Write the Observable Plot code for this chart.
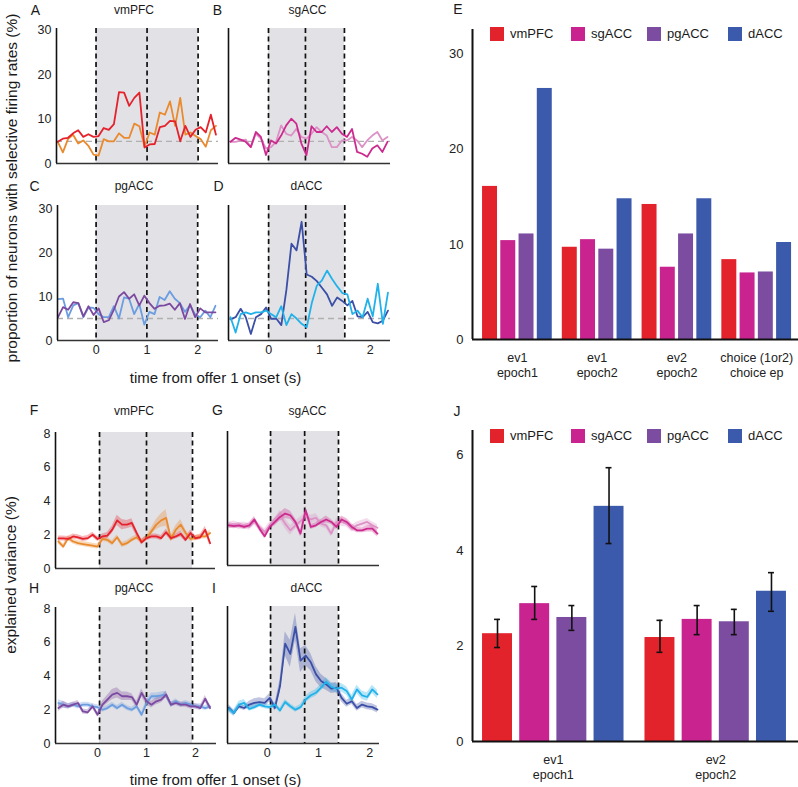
<!DOCTYPE html>
<html><head><meta charset="utf-8">
<script src="https://cdn.jsdelivr.net/npm/d3@7"></script>
<script src="https://cdn.jsdelivr.net/npm/@observablehq/plot@0.6"></script>
<style>
body{margin:0;background:#fff;}
#fig{position:relative;width:798px;height:787px;overflow:hidden;font-family:"Liberation Sans",Arial,sans-serif;color:#1a1a1a;background:#fff;}
.lbl{position:absolute;white-space:nowrap;transform:translate(-50%,-50%);line-height:1;}
.panel{position:absolute;}
.sw{position:absolute;}
</style></head><body><div id="fig"></div>
<script>
// ---------- DATA ----------
const regions = ["vmPFC","sgACC","pgACC","dACC"];
const barColors = ["#e3232b","#c9238f","#7b4ca0","#3c5aab"];

// time grids (s)
const tTop = [-0.75,-0.65,-0.55,-0.45,-0.35,-0.25,-0.15,-0.05,0.05,0.15,0.25,0.35,0.45,0.55,0.65,0.75,0.85,0.95,1.05,1.15,1.25,1.35,1.45,1.55,1.65,1.75,1.85,1.95,2.05,2.15,2.25,2.35];
const tLeftBottom = [-0.8,-0.7,-0.6,-0.5,-0.4,-0.3,-0.2,-0.1,0,0.1,0.2,0.3,0.4,0.5,0.6,0.7,0.8,0.9,1.0,1.1,1.2,1.3,1.4,1.5,1.6,1.7,1.8,1.9,2.0,2.1,2.2,2.3];
const tRightBottom = [-0.75,-0.65,-0.55,-0.45,-0.35,-0.25,-0.15,-0.05,0.05,0.15,0.25,0.35,0.45,0.55,0.65,0.75,0.85,0.95,1.05,1.15,1.25,1.35,1.45,1.55,1.65,1.75,1.85,1.95,2.05,2.15];

// A: vmPFC proportion (%)
const aEv1 = [4.9,5.6,5.8,6.8,7.5,6.0,6.6,6.0,6.2,8.0,7.6,8.9,16.1,16.0,13.0,14.8,16.0,3.6,4.3,4.4,8.2,8.5,9.6,9.5,5.0,8.5,6.0,7.6,8.2,7.0,11.0,6.5];
const aEv2 = [4.9,2.5,5.5,6.5,4.5,5.2,4.0,2.0,1.8,5.5,5.0,5.0,6.8,5.8,5.8,9.0,8.4,3.8,7.0,6.5,11.5,11.0,14.0,8.5,14.8,6.5,7.0,6.2,5.5,3.8,7.5,8.5];
// B: sgACC
const bEv1 = [4.9,5.8,5.4,4.9,3.7,7.1,6.0,1.9,5.2,4.5,6.3,8.6,10.1,9.0,4.5,1.9,8.4,7.1,7.1,8.4,7.1,8.2,6.7,6.0,7.8,2.6,2.2,1.5,3.4,4.1,2.6,4.9];
const bEv2 = [4.9,4.9,5.2,5.4,3.7,6.7,5.6,3.4,3.7,4.9,8.6,6.7,6.3,7.8,6.0,5.6,6.7,8.2,7.1,6.3,3.7,3.7,5.2,5.2,6.0,5.2,3.7,5.2,6.3,7.1,5.2,6.0];
// C: pgACC
const cEv1 = [5.3,7.6,7.0,8.7,8.5,5.5,7.8,5.8,7.3,4.2,4.6,7.0,10.0,11.0,9.5,10.5,8.0,10.2,8.5,7.2,7.9,8.0,8.4,7.0,8.5,4.9,8.3,5.3,7.3,6.4,6.4,6.4];
const cEv2 = [9.4,9.5,5.3,8.0,8.5,5.3,7.5,7.4,6.0,5.3,5.3,7.8,5.0,9.8,9.5,6.0,8.3,3.6,6.5,6.0,9.9,9.2,11.2,9.5,8.5,6.5,8.0,5.9,5.3,6.8,5.3,7.9];
// D: dACC
const dEv1 = [4.8,5.3,7.2,5.3,1.5,5.3,6.0,7.5,4.9,5.0,3.5,11.5,22.0,20.5,27.0,15.0,14.5,13.5,12.0,10.5,7.9,9.8,9.0,8.0,9.0,5.5,5.3,6.5,4.2,3.9,4.5,6.8];
const dEv2 = [5.3,1.8,6.0,6.4,6.0,6.4,6.4,6.8,6.0,5.3,7.8,3.5,6.0,5.0,3.8,3.0,8.5,12.5,13.7,15.9,14.0,12.3,10.8,10.5,6.0,6.8,5.3,9.5,5.5,12.9,3.8,10.9];

// F: vmPFC explained variance (%) and s.e.m.
const fEv1 = [1.78,1.78,1.75,1.9,1.85,1.75,1.8,2.0,1.75,1.9,1.95,2.3,2.85,2.6,2.6,2.7,2.1,1.55,1.8,1.9,1.9,1.8,2.15,1.8,1.9,2.05,1.7,2.1,1.8,1.85,2.3,1.5];
const fEv1Sem = [0.15,0.15,0.15,0.15,0.15,0.15,0.15,0.15,0.15,0.15,0.18,0.22,0.3,0.3,0.25,0.25,0.2,0.15,0.15,0.15,0.15,0.15,0.18,0.15,0.15,0.18,0.15,0.18,0.15,0.15,0.2,0.2];
const fEv2 = [1.6,1.3,1.8,1.6,1.5,1.45,1.4,1.35,1.3,1.75,1.7,1.5,1.85,1.4,1.5,1.7,1.85,1.6,1.8,2.2,2.6,2.85,3.0,1.75,2.3,2.6,2.1,1.75,1.8,1.9,1.9,2.1];
const fEv2Sem = [0.15,0.15,0.15,0.15,0.15,0.15,0.15,0.15,0.15,0.15,0.15,0.15,0.15,0.15,0.15,0.15,0.15,0.15,0.15,0.2,0.3,0.4,0.5,0.2,0.25,0.3,0.2,0.15,0.15,0.15,0.15,0.18];
// G: sgACC
const gEv1 = [2.4,2.35,2.4,2.3,2.4,2.75,2.2,1.75,2.3,2.6,2.9,3.1,3.0,2.6,1.9,3.3,2.3,2.4,2.6,2.75,2.6,2.3,2.75,2.6,2.3,2.1,2.1,2.2,2.2,1.9];
const gEv1Sem = [0.15,0.15,0.15,0.15,0.15,0.18,0.15,0.15,0.15,0.2,0.25,0.3,0.25,0.2,0.2,0.25,0.15,0.15,0.15,0.2,0.15,0.15,0.2,0.2,0.2,0.15,0.15,0.2,0.2,0.2];
const gEv2 = [2.4,2.45,2.35,2.4,2.3,2.6,2.3,2.0,2.4,2.6,3.0,2.5,2.1,2.4,2.65,2.95,2.75,2.85,2.5,2.4,1.9,2.6,2.6,2.5,2.2,2.4,2.5,2.6,2.4,2.25];
const gEv2Sem = [0.2,0.2,0.2,0.2,0.2,0.2,0.2,0.2,0.2,0.25,0.3,0.3,0.3,0.25,0.25,0.25,0.25,0.25,0.2,0.2,0.2,0.2,0.25,0.2,0.2,0.2,0.2,0.2,0.2,0.2];
// H: pgACC
const hEv1 = [2.1,2.3,2.2,2.3,2.4,1.9,1.85,2.2,1.7,2.3,2.6,2.9,3.0,2.8,2.8,2.75,2.3,3.0,2.5,2.3,2.5,2.6,2.9,2.3,2.4,2.3,2.3,2.2,2.2,2.1,2.65,2.1];
const hEv1Sem = [0.2,0.2,0.15,0.15,0.15,0.15,0.15,0.15,0.15,0.2,0.25,0.3,0.3,0.25,0.25,0.2,0.2,0.25,0.2,0.2,0.2,0.2,0.2,0.15,0.15,0.15,0.15,0.15,0.15,0.15,0.2,0.15];
const hEv2 = [2.4,2.3,2.2,2.3,2.2,2.3,2.3,2.2,2.15,2.0,2.1,2.3,2.1,2.3,2.1,2.0,2.2,1.7,2.4,2.8,2.8,2.85,2.9,2.3,2.5,2.3,2.4,2.3,2.2,2.2,2.1,2.2];
const hEv2Sem = [0.2,0.2,0.15,0.15,0.15,0.15,0.15,0.15,0.15,0.15,0.15,0.15,0.15,0.15,0.15,0.15,0.15,0.15,0.2,0.2,0.2,0.2,0.2,0.15,0.15,0.15,0.15,0.15,0.15,0.15,0.15,0.15];
// I: dACC
const iEv1 = [2.1,1.8,2.2,2.1,2.3,2.4,2.45,2.4,2.7,2.1,3.4,5.9,5.3,6.9,4.9,5.2,4.8,4.1,3.7,3.5,3.25,3.3,2.7,2.35,2.5,2.1,2.3,2.2,2.15,2.0];
const iEv1Sem = [0.2,0.15,0.15,0.15,0.2,0.25,0.25,0.25,0.25,0.2,0.4,0.7,0.8,0.8,0.7,0.6,0.5,0.45,0.4,0.35,0.3,0.3,0.25,0.2,0.2,0.2,0.2,0.2,0.2,0.2];
const iEv2 = [2.05,1.8,2.3,2.4,2.05,2.15,2.3,2.2,2.15,2.3,1.95,2.45,2.2,2.0,2.15,2.6,2.85,3.0,3.3,3.65,3.35,3.25,3.3,3.1,2.6,3.2,2.85,2.75,3.2,2.9];
const iEv2Sem = [0.2,0.2,0.2,0.2,0.15,0.15,0.15,0.15,0.15,0.15,0.15,0.15,0.15,0.15,0.15,0.2,0.2,0.2,0.2,0.25,0.25,0.25,0.25,0.25,0.25,0.25,0.25,0.25,0.25,0.25];

// E: proportion of selective neurons per epoch
const eGroups = ["ev1\nepoch1","ev1\nepoch2","ev2\nepoch2","choice (1or2)\nchoice ep"];
const eVmPFC = [16.1,9.7,14.2,8.4];
const eSgACC = [10.4,10.5,7.6,7.0];
const ePgACC = [11.1,9.5,11.1,7.1];
const eDACC  = [26.4,14.8,14.8,10.2];
const eTicks = [0,10,20,30];

// J: explained variance (%) mean and error limits
const jGroups = ["ev1\nepoch1","ev2\nepoch2"];
const jVmPFC = [2.26,2.18], jVmPFCLo = [1.97,1.87], jVmPFCHi = [2.56,2.54];
const jSgACC = [2.89,2.56], jSgACCLo = [2.56,2.24], jSgACCHi = [3.25,2.85];
const jPgACC = [2.6,2.51],  jPgACCLo = [2.33,2.24], jPgACCHi = [2.85,2.77];
const jDACC  = [4.93,3.15], jDACCLo  = [4.15,2.73], jDACCHi  = [5.74,3.54];
const jTicks = [0,2,4,6];

const col = {
  red:"#e5212b", orange:"#ea8a2e", magenta:"#cc2a8e", pink:"#dc92c6",
  purple:"#7b4aa0", lightblue:"#6b9de0", darkblue:"#3b4fa6", cyan:"#22b2ea"
};

// ---------- LAYOUT HELPERS ----------
const FONT = "'Liberation Sans', Arial, sans-serif";
const fmt = d3.format("~g");
const fig = document.getElementById("fig");
function label(text, x, y, size, rotate) {
  const d = document.createElement("div");
  d.className = "lbl"; d.textContent = text;
  d.style.left = x + "px"; d.style.top = y + "px"; d.style.fontSize = size + "px";
  if (rotate) d.style.transform = "translate(-50%,-50%) rotate(-90deg)";
  fig.appendChild(d);
}
function place(svg, left, top) {
  const w = document.createElement("div");
  w.className = "panel"; w.style.left = left + "px"; w.style.top = top + "px";
  w.appendChild(svg); fig.appendChild(w);
}
function legend(y) {
  const xs = [490, 571, 647, 728];
  regions.forEach((r, i) => {
    const s = document.createElement("div");
    s.className = "sw";
    s.style.cssText = `left:${xs[i]}px;top:${y-7}px;width:14px;height:14px;background:${barColors[i]};`;
    fig.appendChild(s);
    const t = document.createElement("div");
    t.className = "sw";
    t.style.cssText = `left:${xs[i]+20}px;top:${y-8}px;font-size:13px;line-height:16px;`;
    t.textContent = r;
    fig.appendChild(t);
  });
}

function tsPanel(p) {
  const mL = 36, mR = 8, mT = 4, mB = 26;
  const W = p.x1 - p.x0 + mL + mR, H = p.y1 - p.y0 + mT + mB;
  const marks = [
    Plot.rect([p.shade], {x1: d => d[0], x2: d => d[1], y1: () => p.yDomain[0], y2: () => p.yDomain[1], fill: "#e2e2e6"})
  ];
  if (p.chance != null) marks.push(Plot.ruleY([p.chance], {stroke: "#b0b0b0", strokeWidth: 1.3, strokeDasharray: "6,4"}));
  const datasets = p.series.map(s => s.v.map((v, i) => ({t: s.t[i], v, s: s.sem ? s.sem[i] : 0})));
  p.series.forEach((s, k) => {
    if (s.sem) marks.push(Plot.areaY(datasets[k], {x: "t", y1: d => d.v - d.s, y2: d => d.v + d.s, fill: s.color, fillOpacity: 0.32}));
  });
  marks.push(Plot.ruleX(p.dashes, {stroke: "#111", strokeWidth: 1.7, strokeDasharray: "5,3.5"}));
  p.series.forEach((s, k) => {
    marks.push(Plot.lineY(datasets[k], {x: "t", y: "v", stroke: s.color, strokeWidth: 1.8}));
  });
  marks.push(Plot.ruleY([p.yDomain[0]], {stroke: "#333", strokeWidth: 1.5}));
  marks.push(Plot.ruleX([p.xDomain[0]], {stroke: "#111", strokeWidth: 1.6}));
  const svg = Plot.plot({
    width: W, height: H, marginLeft: mL, marginRight: mR, marginTop: mT, marginBottom: mB,
    style: {fontFamily: FONT, fontSize: "12.5px", color: "#222", background: "transparent", overflow: "visible"},
    x: {domain: p.xDomain, ticks: p.xTicks || [], tickFormat: fmt, tickSize: 0, tickPadding: 5, label: null, axis: p.xTicks ? "bottom" : null},
    y: {domain: p.yDomain, ticks: p.yTicks || [], tickFormat: fmt, tickSize: 0, tickPadding: 5, label: null, axis: p.yTicks ? "left" : null},
    marks
  });
  place(svg, p.x0 - mL, p.y0 - mT);
}

function barPanel(p) {
  const mL = 40, mR = 0, mT = 4, mB = 50;
  const W = p.x1 - p.x0 + mL + mR, H = p.y1 - p.y0 + mT + mB;
  const rows = [];
  regions.forEach((r, ri) => p.groups.forEach((g, gi) => {
    const x1 = gi * p.step + ri, x2 = x1 + p.bw;
    rows.push({region: r, x1, x2, c: (x1 + x2) / 2, v: p.vals[ri][gi],
      lo: p.lo ? p.lo[ri][gi] : null, hi: p.hi ? p.hi[ri][gi] : null});
  }));
  const groupRows = p.groups.map((g, gi) => ({label: g, x: gi * p.step + (3 + p.bw) / 2}));
  const marks = [
    Plot.rect(rows, {x1: "x1", x2: "x2", y1: () => 0, y2: "v", fill: "region"})
  ];
  if (p.lo) {
    marks.push(Plot.ruleX(rows, {x: "c", y1: "lo", y2: "hi", stroke: "#111", strokeWidth: 1.6}));
    marks.push(Plot.ruleY(rows, {y: "hi", x1: d => d.c - p.cap, x2: d => d.c + p.cap, stroke: "#111", strokeWidth: 1.6}));
    marks.push(Plot.ruleY(rows, {y: "lo", x1: d => d.c - p.cap, x2: d => d.c + p.cap, stroke: "#111", strokeWidth: 1.6}));
  }
  marks.push(Plot.ruleY([0], {stroke: "#111", strokeWidth: 2}));
  marks.push(Plot.ruleX([p.xDomain[0]], {stroke: "#111", strokeWidth: 2}));
  marks.push(Plot.text(groupRows, {x: "x", y: () => 0, text: "label", dy: 12, lineAnchor: "top", lineHeight: 1.2, fontSize: 12.5, fill: "#222"}));
  const svg = Plot.plot({
    width: W, height: H, marginLeft: mL, marginRight: mR, marginTop: mT, marginBottom: mB,
    style: {fontFamily: FONT, fontSize: "13px", color: "#222", background: "transparent", overflow: "visible"},
    x: {domain: p.xDomain, axis: null},
    y: {domain: p.yDomain, ticks: p.yTicks, tickFormat: fmt, tickSize: 0, tickPadding: 9, label: null},
    color: {domain: regions, range: barColors},
    marks
  });
  place(svg, p.x0 - mL, p.y0 - mT);
}

// ---------- PANELS ----------
const propTicks = [0, 10, 20, 30];
const evTicks = [0, 2, 4, 6, 8];
const timeTicks = [0, 1, 2];

tsPanel({x0: 56, x1: 218, y0: 28, y1: 163, xDomain: [-0.775, 2.4], yDomain: [0, 30.45], yTicks: propTicks,
  shade: [0, 2], dashes: [0, 1, 2], chance: 5,
  series: [{t: tTop, v: aEv2, color: col.orange}, {t: tTop, v: aEv1, color: col.red}]});
tsPanel({x0: 228, x1: 390, y0: 28, y1: 163, xDomain: [-0.79, 2.41], yDomain: [0, 30.45],
  shade: [0, 1.5], dashes: [0, 0.73, 1.5], chance: 5,
  series: [{t: tTop, v: bEv2, color: col.pink}, {t: tTop, v: bEv1, color: col.magenta}]});
tsPanel({x0: 57, x1: 218, y0: 205, y1: 340, xDomain: [-0.76, 2.41], yDomain: [0, 30.7], yTicks: propTicks, xTicks: timeTicks,
  shade: [0, 2], dashes: [0, 1, 2], chance: 5,
  series: [{t: tTop, v: cEv2, color: col.lightblue}, {t: tTop, v: cEv1, color: col.purple}]});
tsPanel({x0: 228, x1: 390, y0: 205, y1: 340, xDomain: [-0.79, 2.4], yDomain: [0, 30.7], xTicks: timeTicks,
  shade: [0, 1.5], dashes: [0, 0.73, 1.5], chance: 5,
  series: [{t: tTop, v: dEv1, color: col.darkblue}, {t: tTop, v: dEv2, color: col.cyan}]});

tsPanel({x0: 55, x1: 215, y0: 432, y1: 568, xDomain: [-0.86, 2.41], yDomain: [0, 8.06], yTicks: evTicks,
  shade: [0.04, 1.94], dashes: [0.04, 1.0, 1.94],
  series: [{t: tLeftBottom, v: fEv2, sem: fEv2Sem, color: col.orange}, {t: tLeftBottom, v: fEv1, sem: fEv1Sem, color: col.red}]});
tsPanel({x0: 227, x1: 379, y0: 431, y1: 565, xDomain: [-0.775, 2.19], yDomain: [0, 8.0],
  shade: [0.065, 1.39], dashes: [0.065, 0.73, 1.39],
  series: [{t: tRightBottom, v: gEv2, sem: gEv2Sem, color: col.pink}, {t: tRightBottom, v: gEv1, sem: gEv1Sem, color: col.magenta}]});
tsPanel({x0: 55, x1: 216, y0: 607, y1: 743, xDomain: [-0.86, 2.43], yDomain: [0, 8.06], yTicks: evTicks, xTicks: timeTicks,
  shade: [0.04, 1.94], dashes: [0.04, 1.0, 1.94],
  series: [{t: tLeftBottom, v: hEv2, sem: hEv2Sem, color: col.lightblue}, {t: tLeftBottom, v: hEv1, sem: hEv1Sem, color: col.purple}]});
tsPanel({x0: 227, x1: 379, y0: 606, y1: 743, xDomain: [-0.775, 2.19], yDomain: [0, 8.1], xTicks: timeTicks,
  shade: [0.065, 1.39], dashes: [0.065, 0.73, 1.39],
  series: [{t: tRightBottom, v: iEv1, sem: iEv1Sem, color: col.darkblue}, {t: tRightBottom, v: iEv2, sem: iEv2Sem, color: col.cyan}]});

barPanel({x0: 472, x1: 798, y0: 29, y1: 339, groups: eGroups, step: 4.37, bw: 0.82,
  xDomain: [-0.55, 17.31], yDomain: [0, 32.6], yTicks: eTicks,
  vals: [eVmPFC, eSgACC, ePgACC, eDACC]});
barPanel({x0: 472, x1: 798, y0: 430, y1: 741, groups: jGroups, step: 4.37, bw: 0.806,
  xDomain: [-0.27, 8.5], yDomain: [0, 6.52], yTicks: jTicks, cap: 0.08,
  vals: [jVmPFC, jSgACC, jPgACC, jDACC],
  lo: [jVmPFCLo, jSgACCLo, jPgACCLo, jDACCLo], hi: [jVmPFCHi, jSgACCHi, jPgACCHi, jDACCHi]});

legend(34);
legend(436);

// ---------- TEXT ----------
const L = 14, T = 12;
label("A", 35.5, 10, L); label("vmPFC", 134, 10, T);
label("B", 217.5, 10, L); label("sgACC", 307.5, 10, T);
label("C", 34.5, 185.5, L); label("pgACC", 134, 186, T);
label("D", 218.5, 186, L); label("dACC", 306.5, 186, T);
label("E", 458, 9, L);
label("F", 34, 410, L); label("vmPFC", 134, 411, T);
label("G", 217.5, 410, L); label("sgACC", 307.5, 411, T);
label("H", 34, 588, L); label("pgACC", 134, 588, T);
label("I", 214, 588, L); label("dACC", 306.5, 588, T);
label("J", 457, 410.5, L);
label("proportion of neurons with selective firing rates (%)", 12, 188, 15.5, true);
label("time from offer 1 onset (s)", 215.5, 377, 15);
label("explained variance (%)", 11, 575, 15.5, true);
label("time from offer 1 onset (s)", 215.5, 779, 15);
</script>
</body></html>
